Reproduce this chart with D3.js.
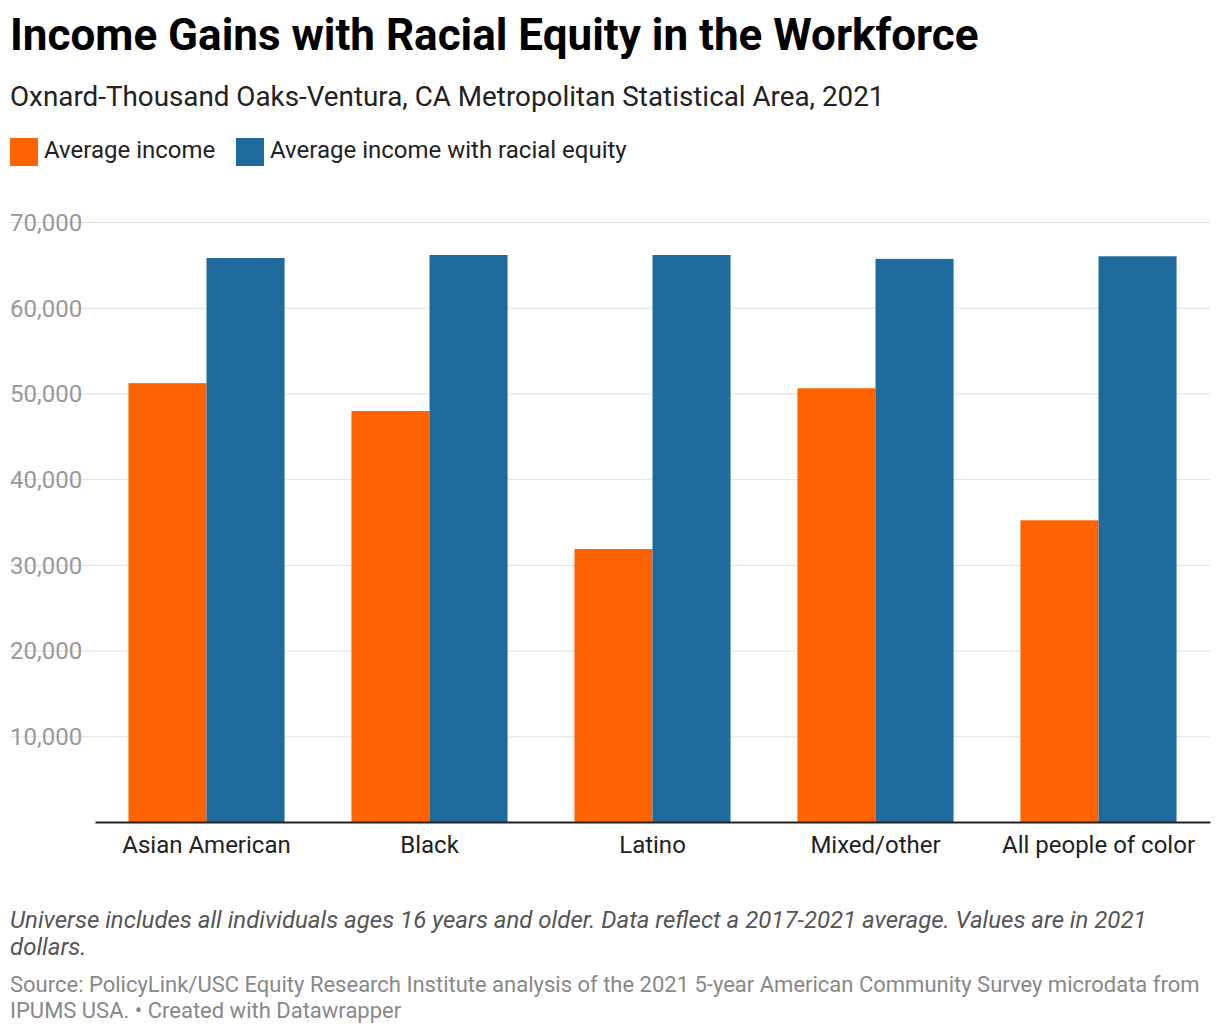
<!DOCTYPE html>
<html><head><meta charset="utf-8">
<script src="https://cdn.jsdelivr.net/npm/d3@7"></script>
<style>body{margin:0;background:#fff;font-family:Roboto,sans-serif}</style>
</head><body><svg id="chart" width="1220" height="1036"></svg>
<script>
const data = [
  {group: 'Asian American', avg: 51200, equity: 65800},
  {group: 'Black', avg: 47950, equity: 66150},
  {group: 'Latino', avg: 31850, equity: 66150},
  {group: 'Mixed/other', avg: 50600, equity: 65700},
  {group: 'All people of color', avg: 35200, equity: 66000}
]
const keys = ['avg', 'equity']
const colors = {avg: '#ff6200', equity: '#1f6a9c'}
const svg = d3.select('#chart')
const mLeft = 95, mRight = 1210, mTop = 222, mBottom = 822

svg.append('text').attr('x', 10).attr('y', 50).attr('font-size', 44).attr('font-weight', 700).text('Income Gains with Racial Equity in the Workforce')
svg.append('text').attr('x', 10).attr('y', 106).attr('font-size', 27.8).attr('fill', '#222').text('Oxnard-Thousand Oaks-Ventura, CA Metropolitan Statistical Area, 2021')

const legend = [['avg', 'Average income', 10], ['equity', 'Average income with racial equity', 236]]
legend.forEach(([k, label, x]) => {
  svg.append('rect').attr('x', x).attr('y', 138).attr('width', 28).attr('height', 28).attr('fill', colors[k])
  svg.append('text').attr('x', x + 34).attr('y', 158).attr('font-size', 24).attr('fill', '#222').text(label)
})

const y = d3.scaleLinear().domain([0, 70000]).range([mBottom, mTop])
const x = d3.scaleBand().domain(data.map(d => d.group)).range([mLeft, mRight]).paddingInner(0.3).paddingOuter(0.15)
const x1 = d3.scaleBand().domain(keys).range([0, x.bandwidth()])

const yAxis = svg.append('g').attr('transform', `translate(${mRight},0)`)
  .call(d3.axisLeft(y).tickValues(d3.range(10000, 70001, 10000)).tickSize(mRight - 10).tickFormat(d3.format(',')))
yAxis.select('.domain').remove()
yAxis.selectAll('line').attr('stroke', '#e0e0e0')
yAxis.selectAll('text').attr('font-size', 24).attr('fill', '#999').attr('text-anchor', 'start').attr('x', -(mRight - 10)).attr('dy', '0.35em').attr('font-family', 'Roboto')

svg.append('g').selectAll('g').data(data).join('g')
  .attr('transform', d => `translate(${x(d.group)},0)`)
  .selectAll('rect').data(d => keys.map(k => ({k, v: d[k]}))).join('rect')
  .attr('x', d => x1(d.k)).attr('width', x1.bandwidth())
  .attr('y', d => y(d.v)).attr('height', d => y(0) - y(d.v))
  .attr('fill', d => colors[d.k])

const xAxis = svg.append('g').attr('transform', `translate(0,${mBottom})`).call(d3.axisBottom(x).tickSize(0).tickPadding(14))
xAxis.select('.domain').attr('stroke', '#222').attr('stroke-width', 2)
xAxis.selectAll('text').attr('font-size', 24).attr('fill', '#222').attr('font-family', 'Roboto')

const notes = ['Universe includes all individuals ages 16 years and older. Data reflect a 2017-2021 average. Values are in 2021', 'dollars.']
notes.forEach((t, i) => svg.append('text').attr('x', 10).attr('y', 928 + i * 27).attr('font-size', 24).attr('font-style', 'italic').attr('fill', '#555').text(t))
const src = ['Source: PolicyLink/USC Equity Research Institute analysis of the 2021 5-year American Community Survey microdata from', 'IPUMS USA. • Created with Datawrapper']
src.forEach((t, i) => svg.append('text').attr('x', 10).attr('y', 992 + i * 26).attr('font-size', 22).attr('fill', '#888').text(t))
</script></body></html>
